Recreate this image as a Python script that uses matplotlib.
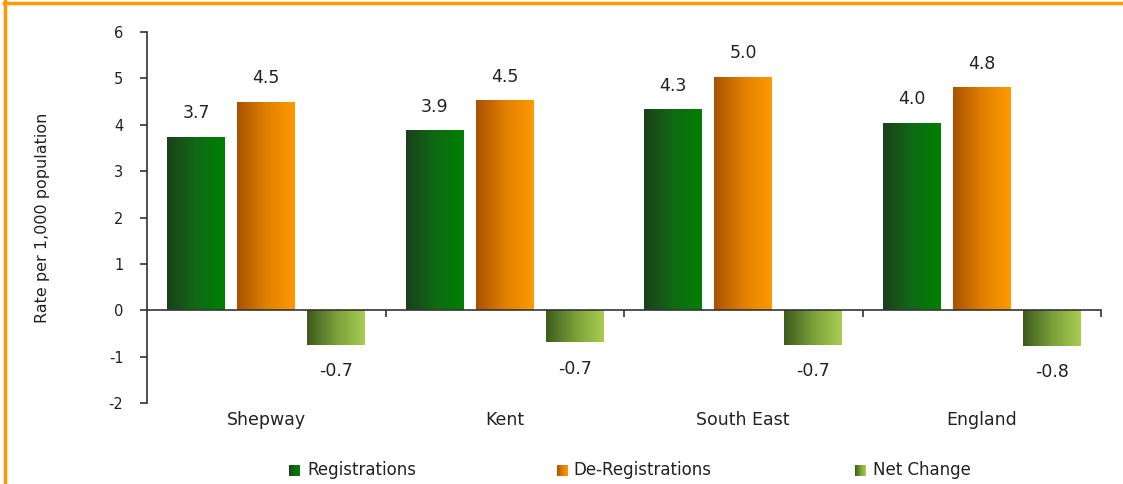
import numpy as np
import matplotlib
matplotlib.use("Agg")
import matplotlib.pyplot as plt
from matplotlib.colors import LinearSegmentedColormap
from matplotlib.lines import Line2D
from matplotlib.ticker import FixedLocator, NullLocator

# ---- data ----
categories = ["Shepway", "Kent", "South East", "England"]
registrations = [3.74, 3.88, 4.33, 4.04]
de_registrations = [4.50, 4.53, 5.04, 4.81]
net_change = [-0.74, -0.69, -0.74, -0.77]
series_names = ["Registrations", "De-Registrations", "Net Change"]
y_ticks = [-2, -1, 0, 1, 2, 3, 4, 5, 6]

gradients = [
    ["#1b401b", "#0f6a15", "#008000"],
    ["#a85200", "#e07f00", "#ff9a00"],
    ["#3e5a1c", "#78a03a", "#a9cc52"],
]

W, H = 1123, 484
fig = plt.figure(figsize=(W / 100, H / 100), dpi=100)
plt.rcParams["font.family"] = ["DejaVu Sans"]

ax = fig.add_axes([147 / W, 1 - 403 / H, (1101 - 147) / W, (403 - 32) / H])
ax.set_xlim(0, len(categories))
ax.set_ylim(-2, 6)

offsets = [-0.293, 0.0, 0.293]
bar_w = 0.243
x = np.arange(len(categories)) + 0.5
grad = np.linspace(0, 1, 256).reshape(1, -1)

all_series = [registrations, de_registrations, net_change]
for s, (vals, cols) in enumerate(zip(all_series, gradients)):
    cmap = LinearSegmentedColormap.from_list(f"g{s}", cols)
    bars = ax.bar(x + offsets[s], vals, width=bar_w, color="none", edgecolor="none", zorder=2)
    for b, v in zip(bars, vals):
        x0 = b.get_x()
        x1 = x0 + b.get_width()
        y0 = min(0, v)
        y1 = max(0, v)
        im = ax.imshow(grad, cmap=cmap, extent=[x0, x1, y0, y1], aspect="auto",
                       interpolation="bilinear", zorder=2)
        im.set_clip_path(b)
        if v >= 0:
            ax.annotate(f"{v:.1f}", (b.get_x() + b.get_width() / 2, v),
                        xytext=(0, 17), textcoords="offset points",
                        ha="center", va="center", fontsize=12.5, color="#222222")
        else:
            ax.annotate(f"{v:.1f}", (b.get_x() + b.get_width() / 2, v),
                        xytext=(0, -19), textcoords="offset points",
                        ha="center", va="center", fontsize=12.5, color="#222222")

# axes styling
ax.spines["top"].set_visible(False)
ax.spines["right"].set_visible(False)
ax.spines["left"].set_color("#333333")
ax.spines["bottom"].set_color("#333333")
ax.spines["left"].set_linewidth(1.2)
ax.spines["bottom"].set_linewidth(1.2)
ax.spines["bottom"].set_position(("data", 0))
ax.set_yticks(y_ticks)
ax.set_yticklabels([str(t) for t in y_ticks], fontsize=10.5, color="#222222")
ax.tick_params(axis="y", length=5, width=1.2, color="#333333", pad=12)
ax.xaxis.set_major_locator(NullLocator())
ax.xaxis.set_minor_locator(FixedLocator([1, 2, 3, 4]))
ax.tick_params(axis="x", which="minor", direction="out", length=5, width=1.2,
               color="#333333", labelbottom=False)
ax.set_facecolor("none")

for xi, c in zip(x, categories):
    ax.text(xi, -17 / 371, c, transform=ax.get_xaxis_transform(), ha="center",
            va="center", fontsize=12.5, color="#222222")

fig.text(43 / W, 1 - 218 / H, "Rate per 1,000 population", rotation=90,
         ha="center", va="center", fontsize=11.5, color="#222222")

# legend (manual)
leg_sq = [289, 557, 855]
leg_tx = [307, 573, 873]
for s in range(3):
    cmap = LinearSegmentedColormap.from_list(f"l{s}", gradients[s])
    lax = fig.add_axes([leg_sq[s] / W, 1 - 476 / H, 11 / W, 11 / H])
    lax.imshow(grad, cmap=cmap, aspect="auto", interpolation="bilinear")
    lax.axis("off")
    fig.text(leg_tx[s] / W, 1 - 470 / H, series_names[s], ha="left", va="center",
             fontsize=12, color="#222222")

# orange frame (top and left)
fig.add_artist(Line2D([4 / W, 1], [1 - 2.5 / H, 1 - 2.5 / H], color="#ff9900", lw=2.5,
                      transform=fig.transFigure))
fig.add_artist(Line2D([4.5 / W, 4.5 / W], [0, 1 - 1 / H], color="#ff9900", lw=2.5,
                      transform=fig.transFigure))

fig.savefig("out.png", dpi=100)
